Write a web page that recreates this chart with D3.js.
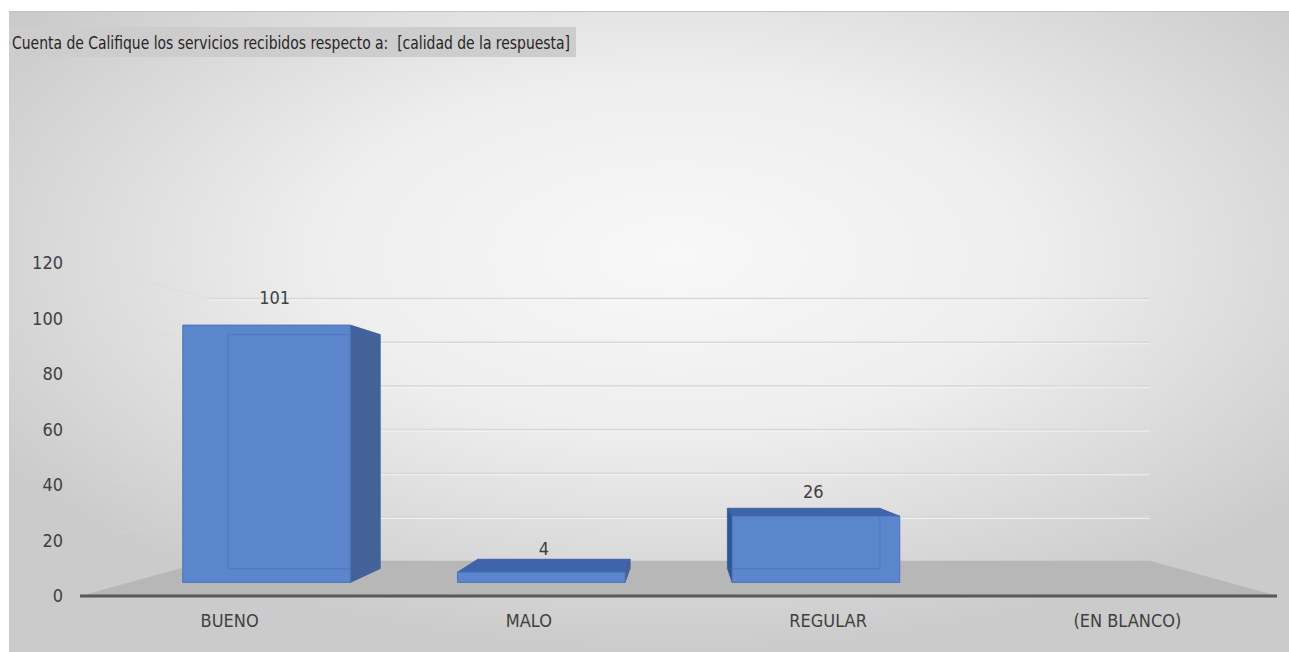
<!DOCTYPE html>
<html>
<head>
<meta charset="utf-8">
<script src="https://cdn.jsdelivr.net/npm/d3@7"></script>
<style>
  html, body { margin: 0; padding: 0; background: #ffffff; }
  svg { display: block; }
  text { font-family: "Liberation Sans Narrow", "DejaVu Sans Condensed", "Noto Sans", sans-serif; }
  .title { white-space: pre; }
</style>
</head>
<body>
<svg id="chart" width="1289" height="652"></svg>
<script>
// ---- data ----
const title = "Cuenta de Califique los servicios recibidos respecto a:  [calidad de la respuesta]";
const categories = ["BUENO", "MALO", "REGULAR", "(EN BLANCO)"];
const counts = [101, 4, 26, null];
const yTicks = [0, 20, 40, 60, 80, 100, 120];

// ---- layout ----
const W = 1289, H = 652;
const svg = d3.select("#chart");

// front plane of the 3D box (depth 0)
const x = d3.scaleBand().domain(categories).range([80, 1277])
  .paddingInner(0.39).paddingOuter(0.195);
const y = d3.scaleLinear().domain([0, 120]).range([596, 263]);

// perspective: vanishing point and depth shrink factor
const vp = [680, 430];
const backScale = 0.787;                 // shrink at the back wall
const k = 1 / backScale - 1;
const depth = z => 1 / (1 + k * z);      // z in [0,1] -> scale factor
const barDepth = [0.33, 0.73];           // bar front/back depth

function project(xf, yf, z) {
  const s = depth(z);
  return [vp[0] + s * (xf - vp[0]), vp[1] + s * (yf - vp[1])];
}

// ---- background ----
const defs = svg.append("defs");
const bg = defs.append("radialGradient").attr("id", "bgGrad")
  .attr("cx", "0.52").attr("cy", "0.38").attr("r", "0.62");
bg.append("stop").attr("offset", "0").attr("stop-color", "#f8f8f8");
bg.append("stop").attr("offset", "0.45").attr("stop-color", "#eeeeee");
bg.append("stop").attr("offset", "1").attr("stop-color", "#cbcbcb");

svg.append("rect").attr("x", 9).attr("y", 11).attr("width", W - 9).attr("height", H - 11)
  .attr("fill", "url(#bgGrad)");
svg.append("line").attr("x1", 9).attr("x2", W).attr("y1", 11.5).attr("y2", 11.5)
  .attr("stroke", "#c4c4c4").attr("stroke-width", 1);

// ---- title ----
const titleG = svg.append("g");
titleG.append("rect").attr("x", 9).attr("y", 27).attr("width", 567).attr("height", 30)
  .attr("fill", "#cdcdcd");
titleG.append("text").attr("class", "title").attr("x", 12).attr("y", 48.5)
  .attr("font-size", 18).attr("fill", "#262626")
  .attr("textLength", 558).attr("lengthAdjust", "spacingAndGlyphs")
  .text(title);

// ---- walls: gridlines ----
const x0 = x.range()[0], x1 = x.range()[1];
const grid = svg.append("g");
yTicks.filter(t => t > 0).forEach(t => {
  const bl = project(x0, y(t), 1), br = project(x1, y(t), 1);
  const fl = [x0, y(t)];
  // side wall
  grid.append("line").attr("x1", fl[0] + 30).attr("y1", fl[1] + (bl[1] - fl[1]) * 30 / (bl[0] - fl[0]))
    .attr("x2", bl[0]).attr("y2", bl[1])
    .attr("stroke", "#d9d9d9").attr("stroke-width", 1).attr("opacity", 0.45);
  // back wall
  grid.append("line").attr("x1", bl[0]).attr("y1", bl[1]).attr("x2", br[0]).attr("y2", br[1])
    .attr("stroke", "#d8d8d8").attr("stroke-width", 1.5);
  grid.append("line").attr("x1", bl[0]).attr("y1", bl[1] + 1.5).attr("x2", br[0]).attr("y2", br[1] + 1.5)
    .attr("stroke", "#fafafa").attr("stroke-width", 1).attr("opacity", 0.7);
});

// ---- floor ----
const floorPts = [project(x0, y(0), 0), project(x0, y(0), 1), project(x1, y(0), 1), project(x1, y(0), 0)];
svg.append("polygon").attr("points", floorPts.map(p => p.join(",")).join(" "))
  .attr("fill", "#b7b7b7");

// ---- bars ----
const barsG = svg.append("g");
const poly = pts => pts.map(p => p.join(",")).join(" ");

categories.forEach((c, i) => {
  const v = counts[i];
  if (v == null) return;
  const xl = x(c), xr = x(c) + x.bandwidth();
  const yt = y(v), yb = y(0);
  const [zf, zb] = barDepth;
  const F = [project(xl, yt, zf), project(xr, yt, zf), project(xr, yb, zf), project(xl, yb, zf)];
  const B = [project(xl, yt, zb), project(xr, yt, zb), project(xr, yb, zb), project(xl, yb, zb)];
  const g = barsG.append("g");

  // left side
  if (xl > vp[0]) {
    g.append("polygon").attr("points", poly([B[0], F[0], F[3], B[3]]))
      .attr("fill", "#2f5597").attr("stroke", "#2f5597").attr("stroke-width", 0.8);
  }
  // right side
  if (xr < vp[0]) {
    g.append("polygon").attr("points", poly([F[1], B[1], B[2], F[2]]))
      .attr("fill", "#436398").attr("stroke", "#3d5c91").attr("stroke-width", 0.8);
  }
  // top face
  if (yt > vp[1]) {
    g.append("polygon").attr("points", poly([B[0], B[1], F[1], F[0]]))
      .attr("fill", "#3f64aa").attr("stroke", "#3a5ea2").attr("stroke-width", 0.8);
  }
  // front face
  g.append("polygon").attr("points", poly(F))
    .attr("fill", "#5b86cd")
    .attr("stroke", "#4a74bd").attr("stroke-width", 1);
  // back edges showing through the translucent front
  g.append("polygon").attr("points", poly(B))
    .attr("fill", "none").attr("stroke", "#4069b0").attr("stroke-width", 1.2).attr("opacity", 0.4);

  // value label
  const lx = project(x(c) + x.bandwidth() / 2, y(v), 0.41)[0];
  const ly = project(x(c) + x.bandwidth() / 2, y(v + 7.5), 0.27)[1];
  g.append("text").attr("x", lx).attr("y", ly).attr("text-anchor", "middle")
    .attr("font-size", 18).attr("fill", "#404040").text(v);
});

// ---- axes ----
const yAxisG = svg.append("g");
yTicks.forEach(t => {
  yAxisG.append("text").attr("x", 63).attr("y", y(t) + 6).attr("text-anchor", "end")
    .attr("font-size", 18).attr("fill", "#404040").text(t);
});

svg.append("line").attr("x1", x0).attr("x2", x1).attr("y1", y(0)).attr("y2", y(0))
  .attr("stroke", "#595959").attr("stroke-width", 3);

const xAxisG = svg.append("g");
categories.forEach(c => {
  xAxisG.append("text").attr("x", x(c) + x.bandwidth() / 2).attr("y", 627)
    .attr("text-anchor", "middle").attr("font-size", 18).attr("fill", "#404040").text(c);
});
</script>
</body>
</html>
